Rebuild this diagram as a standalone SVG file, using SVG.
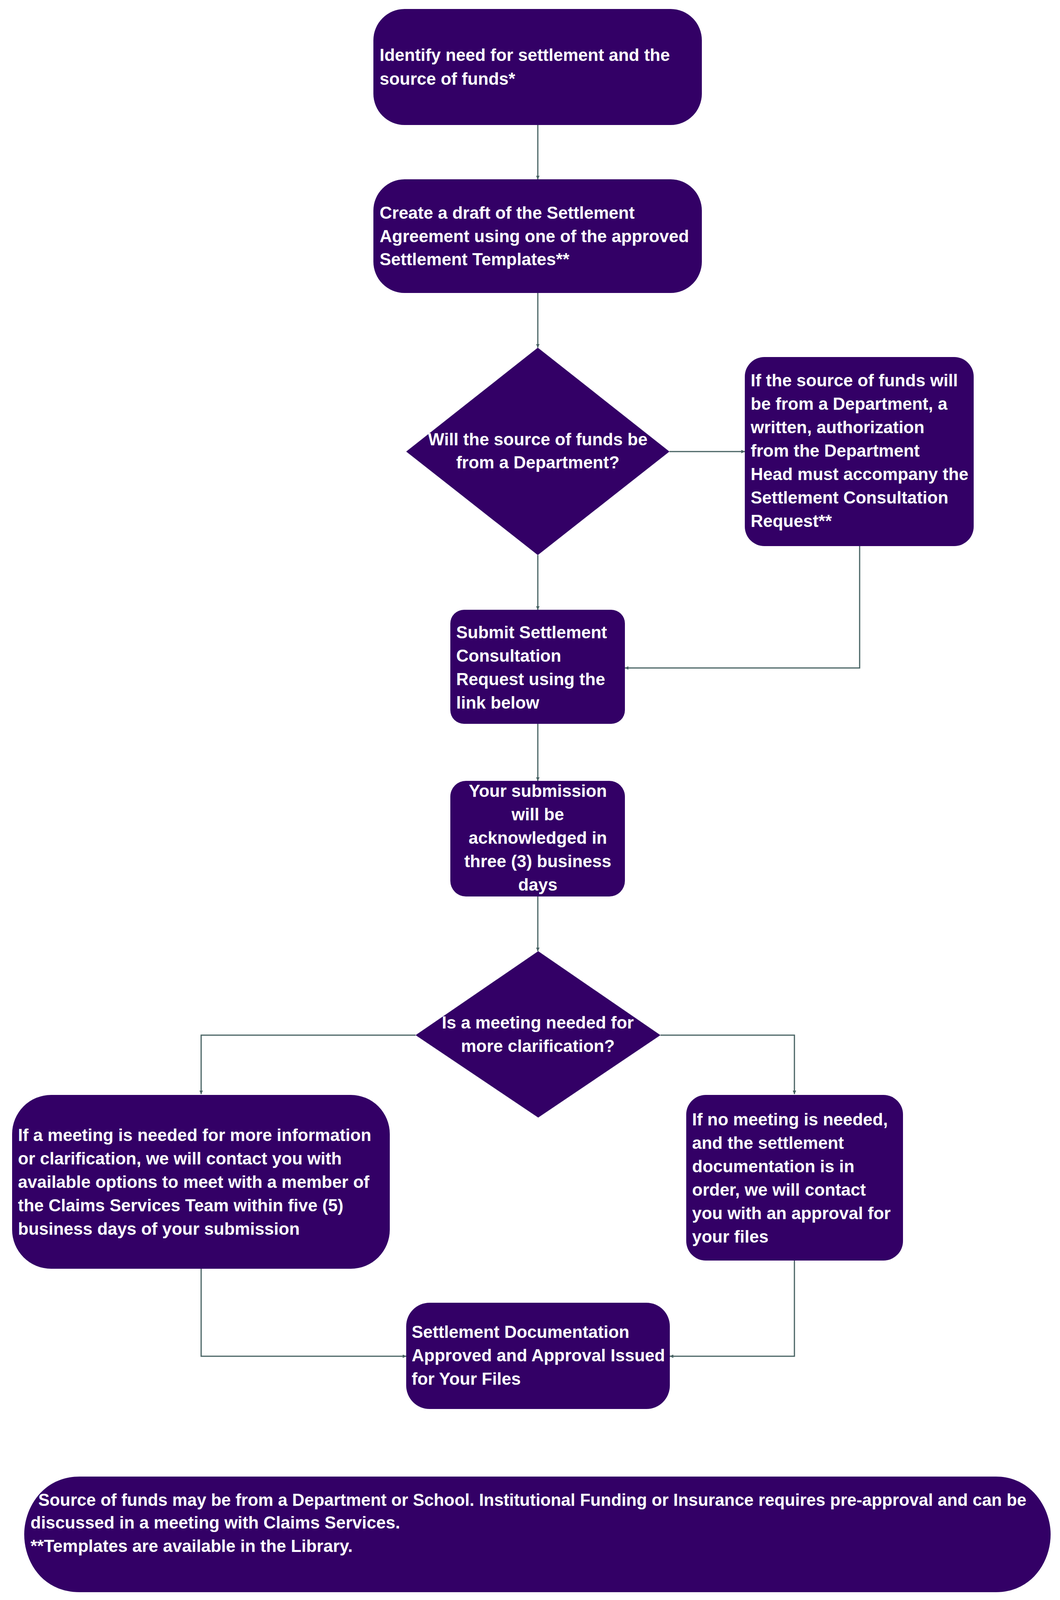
<svg xmlns="http://www.w3.org/2000/svg" width="2714" height="4104" viewBox="0 0 2714 4104">
<style>
.n{fill:#330066}
.t{fill:#fff;font-family:"Liberation Sans",Arial,sans-serif;font-weight:bold;font-size:44px}
.c{text-anchor:middle}
.e{fill:none;stroke:#476262;stroke-width:3}
</style>
<defs><marker id="a" viewBox="0 0 10 10" refX="10" refY="5" markerWidth="9" markerHeight="9" markerUnits="userSpaceOnUse" orient="auto"><path d="M0,0L10,5L0,10z" fill="#476262"/></marker></defs>
<rect width="2714" height="4104" fill="#fff"/>
<g id="connectors">
<path class="e" marker-end="url(#a)" d="M1377,320V459" style="marker-end:url(#a)"/>
<path class="e" d="M1377,750V890" marker-end="url(#a)"/>
<path class="e" d="M1714,1156H1907" marker-end="url(#a)"/>
<path class="e" d="M1377,1421V1561" marker-end="url(#a)"/>
<path class="e" d="M2201,1398V1710H1600" marker-end="url(#a)"/>
<path class="e" d="M1377,1853V1999" marker-end="url(#a)"/>
<path class="e" d="M1377,2295V2435" marker-end="url(#a)"/>
<path class="e" d="M1064,2650H515V2801" marker-end="url(#a)"/>
<path class="e" d="M1691,2650H2034V2801" marker-end="url(#a)"/>
<path class="e" d="M515,3248V3472H1040" marker-end="url(#a)"/>
<path class="e" d="M2034,3227V3472H1715" marker-end="url(#a)"/>
</g>
<g id="n1"><rect class="n" x="956" y="23" width="841" height="297" rx="80"/>
<text class="t" x="972" y="156">Identify need for settlement and the</text>
<text class="t" x="972" y="217">source of funds*</text></g>
<g id="n2"><rect class="n" x="956" y="459" width="841" height="291" rx="80"/>
<text class="t" x="972" y="560">Create a draft of the Settlement</text>
<text class="t" x="972" y="620">Agreement using one of the approved</text>
<text class="t" x="972" y="679">Settlement Templates**</text></g>
<g id="n3"><path class="n" d="M1377,890L1714,1156L1377,1421L1040,1156z"/>
<text class="t c" x="1377" y="1140">Will the source of funds be</text>
<text class="t c" x="1377" y="1199">from a Department?</text></g>
<g id="n4"><rect class="n" x="1907" y="914" width="586" height="484" rx="50"/>
<text class="t" x="1922" y="989">If the source of funds will</text>
<text class="t" x="1922" y="1049">be from a Department, a</text>
<text class="t" x="1922" y="1109">written, authorization</text>
<text class="t" x="1922" y="1169">from the Department</text>
<text class="t" x="1922" y="1229">Head must accompany the</text>
<text class="t" x="1922" y="1289">Settlement Consultation</text>
<text class="t" x="1922" y="1349">Request**</text></g>
<g id="n5"><rect class="n" x="1153" y="1561" width="447" height="292" rx="35"/>
<text class="t" x="1168" y="1634">Submit Settlement</text>
<text class="t" x="1168" y="1694">Consultation</text>
<text class="t" x="1168" y="1754">Request using the</text>
<text class="t" x="1168" y="1814">link below</text></g>
<g id="n6"><rect class="n" x="1153" y="1999" width="447" height="296" rx="40"/>
<text class="t c" x="1377" y="2040">Your submission</text>
<text class="t c" x="1377" y="2100">will be</text>
<text class="t c" x="1377" y="2160">acknowledged in</text>
<text class="t c" x="1377" y="2220">three (3) business</text>
<text class="t c" x="1377" y="2280">days</text></g>
<g id="n7"><path class="n" d="M1378,2435L1691,2650L1378,2861L1064,2650z"/>
<text class="t c" x="1377" y="2633">Is a meeting needed for</text>
<text class="t c" x="1377" y="2693">more clarification?</text></g>
<g id="n8"><rect class="n" x="31" y="2803" width="967" height="445" rx="100"/>
<text class="t" x="46" y="2921">If a meeting is needed for more information</text>
<text class="t" x="46" y="2981">or clarification, we will contact you with</text>
<text class="t" x="46" y="3041">available options to meet with a member of</text>
<text class="t" x="46" y="3101">the Claims Services Team within five (5)</text>
<text class="t" x="46" y="3161">business days of your submission</text></g>
<g id="n9"><rect class="n" x="1757" y="2803" width="555" height="424" rx="50"/>
<text class="t" x="1772" y="2881">If no meeting is needed,</text>
<text class="t" x="1772" y="2941">and the settlement</text>
<text class="t" x="1772" y="3001">documentation is in</text>
<text class="t" x="1772" y="3061">order, we will contact</text>
<text class="t" x="1772" y="3121">you with an approval for</text>
<text class="t" x="1772" y="3181">your files</text></g>
<g id="n10"><rect class="n" x="1040" y="3335" width="675" height="272" rx="60"/>
<text class="t" x="1054" y="3425">Settlement Documentation</text>
<text class="t" x="1054" y="3485">Approved and Approval Issued</text>
<text class="t" x="1054" y="3545">for Your Files</text></g>
<g id="n11"><path class="n" d="M204,3780H2550C2640,3780 2690,3860 2690,3928C2690,4000 2640,4076 2550,4076H204C110,4076 62,4000 62,3928C62,3860 110,3780 204,3780z"/>
<text class="t" x="98" y="3855" textLength="2530" lengthAdjust="spacingAndGlyphs">Source of funds may be from a Department or School. Institutional Funding or Insurance requires pre-approval and can be</text>
<text class="t" x="78" y="3913">discussed in a meeting with Claims Services.</text>
<text class="t" x="78" y="3973">**Templates are available in the Library.</text></g>
</svg>
